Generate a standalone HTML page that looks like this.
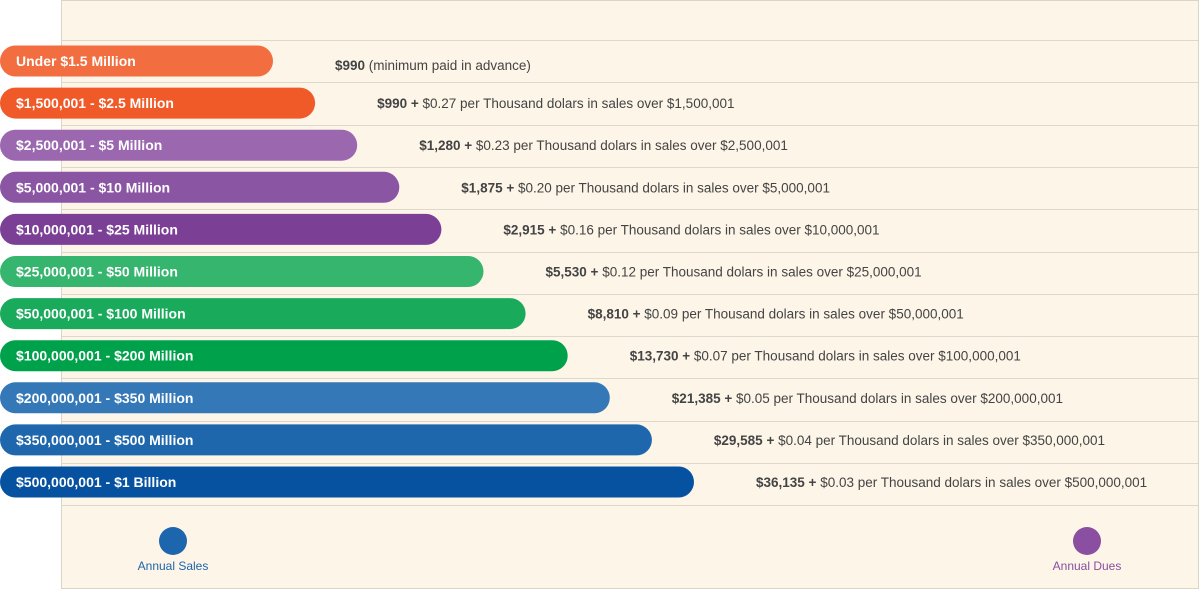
<!DOCTYPE html>
<html><head><meta charset="utf-8"><style>
html,body{margin:0;padding:0;background:#fff;}
svg{display:block;font-family:"Liberation Sans",sans-serif;}
</style></head><body>
<svg id="chart" width="1199" height="589">
<defs><linearGradient id="lg" x1="0" x2="1"><stop offset="0" stop-color="#1d65ad"/><stop offset="1" stop-color="#8a4fa0"/></linearGradient></defs>
<rect x="61.5" y="0.5" width="1137" height="588" fill="#fcf5e8" stroke="#d9d5c9"/>
<g id="rows"></g>
<g>
<line x1="173" y1="541" x2="1087" y2="541" stroke="url(#lg)" stroke-width="3"/>
<circle cx="173" cy="541" r="14" fill="#1d65ad"/>
<circle cx="1087" cy="541" r="14" fill="#8a4fa0"/>
<text x="173" y="570" font-size="12" fill="#1d65ad" text-anchor="middle">Annual Sales</text>
<text x="1087" y="570" font-size="12" fill="#8a4fa0" text-anchor="middle">Annual Dues</text>
</g>
</svg>
<script>
const categories=["Under $1.5 Million","$1,500,001 - $2.5 Million","$2,500,001 - $5 Million","$5,000,001 - $10 Million","$10,000,001 - $25 Million","$25,000,001 - $50 Million","$50,000,001 - $100 Million","$100,000,001 - $200 Million","$200,000,001 - $350 Million","$350,000,001 - $500 Million","$500,000,001 - $1 Billion"];
const tierRank=[1,2,3,4,5,6,7,8,9,10,11];
const baseDues=["$990","$990","$1,280","$1,875","$2,915","$5,530","$8,810","$13,730","$21,385","$29,585","$36,135"];
const rates=["","$0.27","$0.23","$0.20","$0.16","$0.12","$0.09","$0.07","$0.05","$0.04","$0.03"];
const overAmounts=["","$1,500,001","$2,500,001","$5,000,001","$10,000,001","$25,000,001","$50,000,001","$100,000,001","$200,000,001","$350,000,001","$500,000,001"];
const colors=["#f26d3f","#f05a28","#9b68b0","#8a55a2","#7b3f96","#36b56e","#1aaa5c","#00a14b","#3578b8","#1f67ad","#0652a0"];
const NS="http://www.w3.org/2000/svg";
const g=document.getElementById("rows");
function xScale(r){return 273+(r-1)*42.1;}
function yScale(i){return 61+i*42.1;}
function mk(t,a){const e=document.createElementNS(NS,t);for(const k in a)e.setAttribute(k,a[k]);return e;}
for(let i=0;i<=categories.length;i++){
  const y=Math.round(40+i*42.3)+0.5;
  const l=mk("line",{x1:62,x2:1198,y1:y,y2:y,stroke:"#dcd8cc"});
  
  
  g.appendChild(l);
}
categories.forEach((c,i)=>{
  const cy=yScale(i),xe=xScale(tierRank[i]);
  const b=mk("rect",{x:0,y:cy-15.5,width:xe,height:31,rx:15.5,fill:colors[i]});
  
  
  g.appendChild(b);
  const t=mk("text",{x:16,y:cy+5,"font-size":14,"font-weight":"bold",fill:"#fff"});
  t.textContent=c;
  
  
  g.appendChild(t);
  const d=mk("text",{x:xe+62,y:cy+(i==0?9:5),"font-size":13.5,fill:"#444"});
  const s=mk("tspan",{"font-weight":"bold"});
  s.textContent=baseDues[i]+(rates[i]?" +":"");
  d.appendChild(s);
  d.appendChild(document.createTextNode(rates[i]?" "+rates[i]+" per Thousand dolars in sales over "+overAmounts[i]:" (minimum paid in advance)"));
  
  
  g.appendChild(d);
});
</script>
</body></html>
